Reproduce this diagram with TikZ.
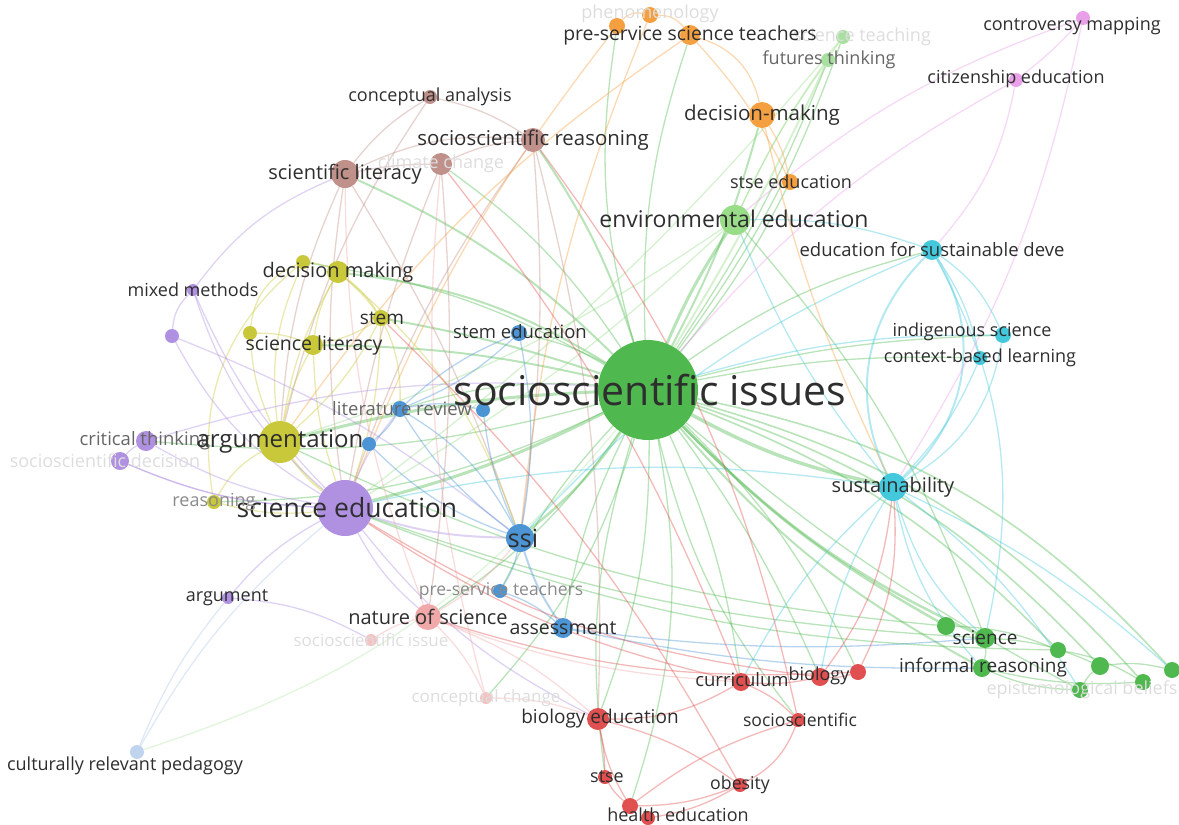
\documentclass[tikz,border=0pt]{standalone}
\usepackage{fontspec}
\setmainfont{Open Sans}
\usetikzlibrary{backgrounds}
\definecolor{cG}{HTML}{4FB84F}
\definecolor{cLG}{HTML}{99DD88}
\definecolor{cVG}{HTML}{A8E0A0}
\definecolor{cC}{HTML}{44C8DC}
\definecolor{cB}{HTML}{4C94D4}
\definecolor{cLB}{HTML}{C0D4EE}
\definecolor{cP}{HTML}{B090E0}
\definecolor{cY}{HTML}{C8C83A}
\definecolor{cBr}{HTML}{C0908A}
\definecolor{cO}{HTML}{F5A040}
\definecolor{cPk}{HTML}{E8A0E8}
\definecolor{cR}{HTML}{E05050}
\definecolor{cS}{HTML}{F0A8A8}
\definecolor{cLS}{HTML}{F4C4C4}
\definecolor{tD}{HTML}{2E2E2E}
\definecolor{tM}{HTML}{666666}
\definecolor{tL}{HTML}{8A8A8A}
\definecolor{tF}{HTML}{DDDDDD}
\tikzset{
  kwc/.style={circle, inner sep=0pt, draw=none},
  lbl/.style={inner sep=0pt, text=tD},
  fs/.style={font=\fontsize{#1}{#1}\selectfont},
  e/.style={draw=#1, draw opacity=0.4, line width=1.3pt},
}
\newcommand\kw[4]{\node[kwc, fill=#4, minimum size=#3pt] (#1) at (#2) {};}
\newcommand\lb[5]{\node[lbl, fs=#4, text=#5] (#1-t) at (#2) {#3};}
\begin{document}
\begin{tikzpicture}[x=1pt,y=-1pt]
\useasboundingbox (0,0) rectangle (1179,825);
% ---- nodes ----
\kw{si}{648,390}{100}{cG}
\kw{envedu}{735,220}{30}{cLG}
\kw{stea}{843,37}{14}{cVG}
\kw{fut}{828,60}{14}{cVG}
\kw{gsci}{985,638}{20}{cG}
\kw{ginf}{982,668}{18}{cG}
\kw{ga}{946,626}{18}{cG}
\kw{gb}{1058,650}{16}{cG}
\kw{gc}{1100,666}{18}{cG}
\kw{gd}{1143,682}{16}{cG}
\kw{ge}{1172,670}{16}{cG}
\kw{epi}{1080,690}{16}{cG}
\kw{esd}{932,250}{20}{cC}
\kw{indig}{1003,335}{16}{cC}
\kw{cbl}{980,358}{14}{cC}
\kw{sust}{893,487}{28}{cC}
\kw{ssi}{520,538}{28}{cB}
\kw{stemedu}{519,333}{16}{cB}
\kw{litrev}{400,409}{16}{cB}
\kw{ba}{483,410}{14}{cB}
\kw{bb}{369,444}{14}{cB}
\kw{pst}{500,591}{14}{cB}
\kw{assess}{563,628}{20}{cB}
\kw{crp}{137,752}{14}{cLB}
\kw{sced}{345,508}{56}{cP}
\kw{mm}{193,290}{12}{cP}
\kw{pa}{172,336}{14}{cP}
\kw{ct}{146,441}{20}{cP}
\kw{pb}{120,461}{18}{cP}
\kw{argument}{228,598}{12}{cP}
\kw{arg}{280,442}{42}{cY}
\kw{decmak}{338,272}{22}{cY}
\kw{ya}{303,262}{14}{cY}
\kw{stem}{381,318}{16}{cY}
\kw{scilitb}{313,345}{20}{cY}
\kw{yb}{250,333}{14}{cY}
\kw{reas}{214,502}{14}{cY}
\kw{scilit}{345,174}{28}{cBr}
\kw{concana}{430,97}{14}{cBr}
\kw{ssr}{533,140}{24}{cBr}
\kw{clim}{441,164}{22}{cBr}
\kw{psst}{690,35}{20}{cO}
\kw{phen}{650,15}{16}{cO}
\kw{oa}{617,26}{16}{cO}
\kw{dm}{762,115}{26}{cO}
\kw{stsee}{790,182}{16}{cO}
\kw{cm}{1083,18}{14}{cPk}
\kw{cit}{1016,80}{14}{cPk}
\kw{bioedu}{598,719}{22}{cR}
\kw{curr}{741,682}{18}{cR}
\kw{bio}{820,677}{18}{cR}
\kw{ra}{858,672}{16}{cR}
\kw{socsci}{798,720}{14}{cR}
\kw{stse}{605,777}{14}{cR}
\kw{obes}{740,785}{14}{cR}
\kw{health}{630,806}{16}{cR}
\kw{rb}{648,818}{14}{cR}
\kw{nos}{428,617}{26}{cS}
\kw{sissue}{371,640}{12}{cLS}
\kw{cchange}{486,698}{12}{cLS}
% ---- edges ----
\begin{scope}[on background layer]
% green hub
\draw[e=cG, line width=3pt] (si) to[bend left=5] (envedu);
\draw[e=cG, line width=3.5pt] (si) to[bend right=8] (sust);
\draw[e=cG, line width=2.5pt] (si) to[bend right=10] (gsci);
\draw[e=cG, line width=2pt] (si) to[bend right=10] (ginf);
\draw[e=cG, line width=2.5pt] (si) to[bend right=8] (ga);
\draw[e=cG, line width=1.6pt] (si) to[bend left=12] (gb);
\draw[e=cG, line width=1.6pt] (si) to[bend left=14] (gc);
\draw[e=cG, line width=1.6pt] (si) to[bend left=16] (gd);
\draw[e=cG, line width=1.6pt] (si) to[bend left=18] (ge);
\draw[e=cG] (si) to[bend right=6] (epi);
\draw[e=cG, line width=3pt] (si) to[bend left=6] (sced);
\draw[e=cG, line width=3pt] (si) to[bend right=6] (arg);
\draw[e=cG, line width=2.5pt] (si) to[bend left=8] (ssi);
\draw[e=cG] (si) to[bend right=10] (litrev);
\draw[e=cG] (si) to[bend right=8] (stemedu);
\draw[e=cG, line width=2pt] (si) to[bend right=12] (decmak);
\draw[e=cG, line width=2pt] (si) to[bend right=10] (scilit);
\draw[e=cG, line width=2pt] (si) to[bend right=8] (ssr);
\draw[e=cG] (si) to[bend right=10] (clim);
\draw[e=cG, line width=2pt] (si) to[bend right=6] (dm);
\draw[e=cG] (si) to[bend right=6] (fut);
\draw[e=cG] (si) to[bend right=8] (stea);
\draw[e=cG] (si) to[bend left=10] (esd);
\draw[e=cG] (si) to[bend left=10] (bioedu);
\draw[e=cG] (si) to[bend left=8] (curr);
\draw[e=cG] (si) to[bend left=6] (bio);
\draw[e=cG] (si) to[bend left=10] (ra);
\draw[e=cG] (si) to[bend left=10] (nos);
\draw[e=cG] (si) to[bend right=8] (assess);
\draw[e=cG] (si) to[bend right=8] (pst);
\draw[e=cG] (si) to[bend right=6] (stsee);
\draw[e=cG] (si) to[bend left=10] (psst);
\draw[e=cG] (si) to[bend left=12] (oa);
\draw[e=cG, line width=2pt] (si) to[bend right=6] (scilitb);
\draw[e=cG, line width=2pt] (si) to[bend right=4] (stem);
\draw[e=cG] (si) to[bend right=10] (ya);
\draw[e=cG] (si) to[bend left=6] (indig);
\draw[e=cG] (si) to[bend left=6] (cbl);
\draw[e=cG] (si) to[bend left=12] (cchange);
\draw[e=cG] (si) to[bend right=12] (socsci);
\draw[e=cG] (si) to[bend left=14] (health);
\draw[e=cG] (si) to[bend right=12] (stse);
\draw[e=cG] (si) to[bend left=10] (ct);
\draw[e=cG] (si) to[bend left=12] (reas);
\draw[e=cLG, draw opacity=0.3] (si) to[bend left=16] (crp);
\draw[e=cG] (sced) to[bend right=8] (gsci);
\draw[e=cG] (sced) to[bend right=10] (gb);
\draw[e=cG] (arg) to[bend right=10] (ga);
\draw[e=cG] (gsci) to[bend left=10] (ginf);
\draw[e=cG] (gsci) to[bend left=10] (gc);
\draw[e=cG] (ginf) to[bend right=10] (epi);
\draw[e=cG] (ga) to[bend left=10] (gb);
\draw[e=cG] (gb) to[bend left=10] (gd);
\draw[e=cG] (gc) to[bend left=10] (ge);
\draw[e=cG] (ginf) to[bend right=8] (gd);
\draw[e=cG] (epi) to[bend left=10] (gc);
\draw[e=cG] (envedu) to[bend left=10] (gsci);
\draw[e=cLG] (envedu) to[bend left=5] (fut);
\draw[e=cLG] (envedu) to[bend left=5] (stea);
\draw[e=cLG, line width=2pt] (fut) to[bend left=3] (si);
\draw[e=cLG] (stea) to[bend left=6] (sced);
\draw[e=cLG] (envedu) to[bend left=6] (sced);
\draw[e=cLG] (envedu) to[bend left=8] (arg);
% cyan
\draw[e=cC, line width=2pt] (esd) to[bend left=40] (sust);
\draw[e=cC, line width=2pt] (esd) to[bend right=35] (sust);
\draw[e=cC] (esd) to[bend left=15] (indig);
\draw[e=cC] (esd) to[bend left=10] (cbl);
\draw[e=cC] (esd) to[bend right=10] (envedu);
\draw[e=cC] (esd) to[bend left=20] (gsci);
\draw[e=cC] (indig) to[bend left=25] (sust);
\draw[e=cC] (cbl) to[bend left=10] (sust);
\draw[e=cC] (sust) to[bend right=15] (gsci);
\draw[e=cC] (sust) to[bend right=15] (ginf);
\draw[e=cC] (sust) to[bend left=10] (epi);
\draw[e=cC] (sust) to[bend left=8] (ge);
\draw[e=cC] (sust) to[bend right=10] (curr);
\draw[e=cC] (sust) to[bend right=10] (bio);
\draw[e=cC] (sust) to[bend left=8] (envedu);
\draw[e=cC] (sust) to[bend right=10] (sced);
\draw[e=cC] (esd) to[bend right=12] (ssi);
\draw[e=cC] (indig) to[bend right=8] (si);
% orange
\draw[e=cO] (psst) to[bend left=30] (dm);
\draw[e=cO] (oa) to[bend left=30] (phen);
\draw[e=cO] (phen) to[bend left=25] (psst);
\draw[e=cO] (psst) to[bend left=8] (stsee);
\draw[e=cO] (dm) to[bend left=10] (stsee);
\draw[e=cO] (oa) to[bend right=8] (sced);
\draw[e=cO] (phen) to[bend right=8] (ssi);
\draw[e=cO] (psst) to[bend right=10] (arg);
\draw[e=cO] (dm) to[bend right=6] (sust);
% pink
\draw[e=cPk] (cm) to[bend left=5] (cit);
\draw[e=cPk] (cm) to[bend right=10] (envedu);
\draw[e=cPk] (cit) to[bend right=10] (si);
\draw[e=cPk] (cit) to[bend left=15] (esd);
\draw[e=cPk] (cm) to[bend left=10] (sust);
% brown
\draw[e=cBr] (scilit) to[bend left=15] (ssr);
\draw[e=cBr] (scilit) to[bend left=10] (concana);
\draw[e=cBr] (scilit) to[bend left=5] (clim);
\draw[e=cBr] (scilit) to[bend right=8] (sced);
\draw[e=cBr] (scilit) to[bend right=10] (arg);
\draw[e=cBr] (scilit) to[bend left=6] (ssi);
\draw[e=cBr] (ssr) to[bend right=10] (concana);
\draw[e=cBr] (ssr) to[bend right=10] (clim);
\draw[e=cBr] (ssr) to[bend right=8] (sced);
\draw[e=cBr] (ssr) to[bend left=6] (ssi);
\draw[e=cBr] (clim) to[bend right=6] (sced);
\draw[e=cBr] (clim) to[bend left=6] (nos);
\draw[e=cBr] (concana) to[bend right=10] (arg);
\draw[e=cBr] (ssr) to[bend left=8] (bioedu);
% yellow
\draw[e=cY] (arg) to[bend left=10] (decmak);
\draw[e=cY] (arg) to[bend left=8] (scilitb);
\draw[e=cY] (arg) to[bend right=10] (stem);
\draw[e=cY] (arg) to[bend left=15] (ya);
\draw[e=cY] (arg) to[bend left=10] (yb);
\draw[e=cY] (arg) to[bend right=15] (reas);
\draw[e=cY, line width=2.5pt] (arg) to[bend right=8] (sced);
\draw[e=cY] (decmak) to[bend left=10] (stem);
\draw[e=cY] (decmak) to[bend right=10] (ya);
\draw[e=cY] (decmak) to[bend right=10] (scilitb);
\draw[e=cY] (decmak) to[bend left=25] (litrev);
\draw[e=cY] (ya) to[bend right=30] (yb);
\draw[e=cY] (scilitb) to[bend right=10] (yb);
\draw[e=cY] (scilitb) to[bend right=8] (sced);
\draw[e=cY] (stem) to[bend left=8] (sced);
\draw[e=cY] (stem) to[bend left=10] (scilitb);
\draw[e=cY] (reas) to[bend right=10] (sced);
\draw[e=cY] (decmak) to[bend left=15] (ssi);
\draw[e=cY] (ya) to[bend right=30] (reas);
% purple
\draw[e=cP] (sced) to[bend left=10] (mm);
\draw[e=cP] (sced) to[bend left=15] (pa);
\draw[e=cP] (sced) to[bend left=10] (ct);
\draw[e=cP] (sced) to[bend left=10] (pb);
\draw[e=cP] (sced) to[bend right=10] (argument);
\draw[e=cLB, draw opacity=0.5] (sced) to[bend right=10] (crp);
\draw[e=cP, line width=2pt] (sced) to[bend right=8] (ssi);
\draw[e=cP] (sced) to[bend right=10] (nos);
\draw[e=cP] (sced) to[bend left=8] (litrev);
\draw[e=cP] (sced) to[bend right=12] (bioedu);
\draw[e=cP] (mm) to[bend right=20] (pa);
\draw[e=cP] (ct) to[bend right=10] (pb);
\draw[e=cP] (mm) to[bend left=15] (scilit);
\draw[e=cP] (pa) to[bend left=8] (ssi);
\draw[e=cP] (ct) to[bend left=10] (si);
\draw[e=cP] (mm) to[bend right=15] (sced);
\draw[e=cP] (pb) to[bend right=10] (sced);
\draw[e=cLB, draw opacity=0.5] (argument) to[bend right=8] (crp);
\draw[e=cP] (argument) to[bend left=12] (sissue);
% blue
\draw[e=cB] (ssi) to[bend left=10] (litrev);
\draw[e=cB] (ssi) to[bend right=10] (stemedu);
\draw[e=cB] (ssi) to[bend left=10] (pst);
\draw[e=cB, line width=2pt] (ssi) to[bend right=8] (assess);
\draw[e=cB] (ssi) to[bend left=8] (ba);
\draw[e=cB] (ssi) to[bend left=12] (bb);
\draw[e=cB] (litrev) to[bend left=10] (stemedu);
\draw[e=cB] (litrev) to[bend left=12] (ba);
\draw[e=cB] (pst) to[bend left=10] (assess);
\draw[e=cB] (assess) to[bend right=6] (gsci);
\draw[e=cB] (assess) to[bend right=6] (ginf);
\draw[e=cB] (litrev) to[bend left=15] (ssi);
\draw[e=cB] (bb) to[bend right=10] (litrev);
\draw[e=cB] (stemedu) to[bend left=10] (litrev);
% red
\draw[e=cR] (bioedu) to[bend right=15] (curr);
\draw[e=cR] (bioedu) to[bend left=5] (stse);
\draw[e=cR] (bioedu) to[bend right=10] (health);
\draw[e=cR] (bioedu) to[bend left=10] (obes);
\draw[e=cS] (bioedu) to[bend right=10] (nos);
\draw[e=cS] (bioedu) to[bend right=10] (cchange);
\draw[e=cR] (curr) to[bend right=8] (bio);
\draw[e=cR] (curr) to[bend left=10] (socsci);
\draw[e=cR] (bio) to[bend right=10] (ra);
\draw[e=cR] (socsci) to[bend left=20] (obes);
\draw[e=cR] (socsci) to[bend right=10] (health);
\draw[e=cR] (stse) to[bend right=10] (health);
\draw[e=cR] (health) to[bend right=10] (obes);
\draw[e=cR] (rb) to[bend right=10] (obes);
\draw[e=cR] (curr) to[bend left=10] (sced);
\draw[e=cR] (bio) to[bend left=12] (sced);
\draw[e=cR] (ra) to[bend left=10] (nos);
\draw[e=cR] (ra) to[bend right=15] (sust);
\draw[e=cR] (bio) to[bend right=15] (sust);
\draw[e=cR] (socsci) to[bend right=12] (ssr);
\draw[e=cR] (curr) to[bend right=8] (clim);
\draw[e=cR] (obes) to[bend right=8] (stem);
\draw[e=cS] (nos) to[bend right=10] (sissue);
\draw[e=cS] (nos) to[bend left=10] (cchange);
\draw[e=cS] (nos) to[bend left=10] (scilit);
\draw[e=cS] (nos) to[bend right=10] (ssi);
\draw[e=cS] (nos) to[bend right=8] (curr);
\draw[e=cS] (cchange) to[bend left=10] (clim);
\end{scope}
% ---- labels ----
\lb{stea}{862,37}{science teaching}{18}{tF}
\lb{phen}{650,14}{phenomenology}{18}{tF}
\lb{clim}{441,164}{climate change}{18}{tF}
\lb{pb}{105,461}{socioscientific decision}{18}{tF}
\lb{epi}{1082,690}{epistemological beliefs}{18}{tF}
\lb{sissue}{371,640}{socioscientific issue}{17}{tF}
\lb{cchange}{486,698}{conceptual change}{17}{tF}
\lb{si}{650,390}{socioscientific issues}{41}{tD}
\lb{envedu}{734,219}{environmental education}{23}{tD}
\lb{fut}{829,60}{futures thinking}{18}{tM}
\lb{gsci}{985,638}{science}{19}{tD}
\lb{ginf}{983,668}{informal reasoning}{19}{tD}
\lb{esd}{932,250}{education for sustainable deve}{18.5}{tD}
\lb{indig}{972,332}{indigenous science}{18}{tD}
\lb{cbl}{980,358}{context-based learning}{18}{tD}
\lb{sust}{893,487}{sustainability}{20}{tD}
\lb{ssi}{523,538}{ssi}{25}{tD}
\lb{stemedu}{520,332}{stem education}{18.5}{tD}
\lb{litrev}{402,409}{literature review}{18.5}{tM}
\lb{pst}{501,591}{pre-service teachers}{17.5}{tL}
\lb{assess}{563,628}{assessment}{19.5}{tD}
\lb{crp}{125,766}{culturally relevant pedagogy}{18}{tD}
\lb{sced}{347,508}{science education}{26.5}{tD}
\lb{mm}{193,290}{mixed methods}{18}{tD}
\lb{ct}{145,441}{critical thinking}{18.5}{tM}
\lb{argument}{227,598}{argument}{18}{tD}
\lb{arg}{280,442}{argumentation}{24}{tD}
\lb{decmak}{338,272}{decision making}{20}{tD}
\lb{stem}{382,318}{stem}{19}{tD}
\lb{scilitb}{314,345}{science literacy}{19.5}{tD}
\lb{reas}{214,502}{reasoning}{18}{tL}
\lb{scilit}{345,174}{scientific literacy}{20}{tD}
\lb{concana}{430,97}{conceptual analysis}{18}{tD}
\lb{ssr}{533,140}{socioscientific reasoning}{20.4}{tD}
\lb{psst}{690,35}{pre-service science teachers}{19.4}{tD}
\lb{dm}{762,115}{decision-making}{20.5}{tD}
\lb{stsee}{791,182}{stse education}{18}{tD}
\lb{cm}{1072,26}{controversy mapping}{18}{tD}
\lb{cit}{1016,79}{citizenship education}{18}{tD}
\lb{bioedu}{600,719}{biology education}{19}{tD}
\lb{curr}{742,680}{curriculum}{18.5}{tD}
\lb{bio}{819,676}{biology}{18}{tD}
\lb{socsci}{800,720}{socioscientific}{17.6}{tD}
\lb{stse}{607,777}{stse}{18}{tD}
\lb{obes}{740,785}{obesity}{17.7}{tD}
\lb{health}{678,815}{health education}{18}{tD}
\lb{nos}{428,617}{nature of science}{20}{tD}
\end{tikzpicture}
\end{document}
